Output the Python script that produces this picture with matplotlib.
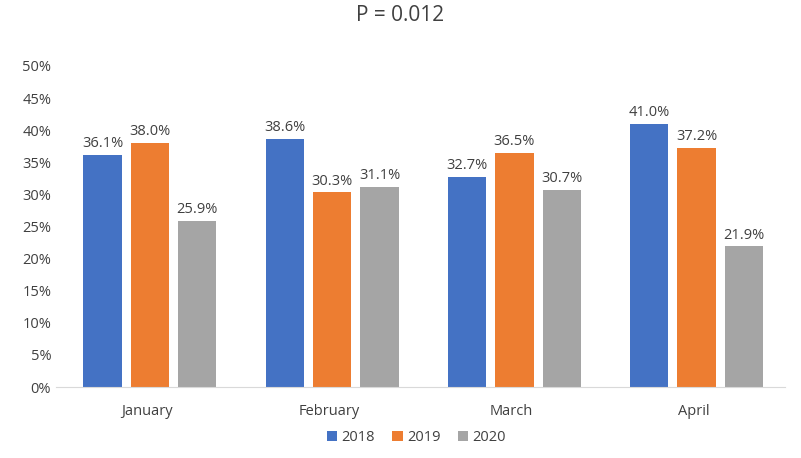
import numpy as np
import matplotlib
matplotlib.use("Agg")
import matplotlib.pyplot as plt

months = ["January", "February", "March", "April"]
years = ["2018", "2019", "2020"]
values_2018 = [36.1, 38.6, 32.7, 41.0]
values_2019 = [38.0, 30.3, 36.5, 37.2]
values_2020 = [25.9, 31.1, 30.7, 21.9]
colors = ["#4472C4", "#ED7D31", "#A5A5A5"]

plt.rcParams["font.family"] = ["Open Sans", "DejaVu Sans"]

fig = plt.figure(figsize=(8.01, 4.58), dpi=100)
ax = fig.add_axes([0.07, 0.155, 0.91, 0.701])

x = np.arange(len(months))
width = 0.21
step = 0.26
series = [values_2018, values_2019, values_2020]
for i, (vals, year, color) in enumerate(zip(series, years, colors)):
    bars = ax.bar(x + 0.015 + (i - 1) * step, vals, width, color=color, label=year)
    for bar, v in zip(bars, vals):
        ax.text(bar.get_x() + bar.get_width() / 2, v + 0.6, f"{v:.1f}%",
                ha="center", va="bottom", fontsize=10.5, color="#404040")

ax.set_xlim(-0.5, len(months) - 0.5)
ax.set_ylim(0, 50)
ax.set_yticks(range(0, 51, 5))
ax.set_yticklabels([f"{t}%" for t in range(0, 51, 5)])
ax.set_xticks(x)
ax.set_xticklabels(months)
ax.tick_params(axis="both", length=0, labelsize=10.5, colors="#404040")
ax.tick_params(axis="x", pad=12)
for side in ["top", "right", "left"]:
    ax.spines[side].set_visible(False)
ax.spines["bottom"].set_color("#D9D9D9")

fig.suptitle("P = 0.012", x=0.5, y=0.99, fontsize=15, color="#404040")
fig.legend(loc="lower center", bbox_to_anchor=(0.52, 0.0), ncol=3, frameon=False,
           fontsize=10.5, handlelength=0.7, handleheight=0.7, columnspacing=1.2,
           handletextpad=0.3, labelcolor="#404040")

fig.savefig("out.png", dpi=100)
